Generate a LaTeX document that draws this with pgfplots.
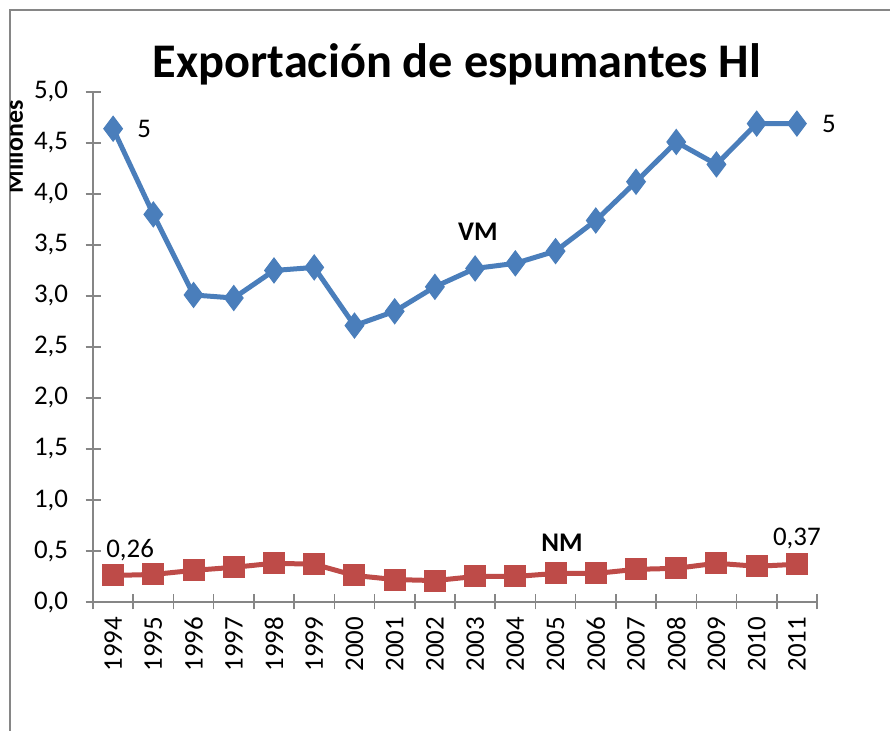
\documentclass[border=0pt]{standalone}
\usepackage{pgfplots}
\pgfplotsset{compat=1.18}
\usepackage{fontspec}
\setmainfont{Carlito}
\definecolor{vmblue}{HTML}{4A7EBB}
\definecolor{nmred}{HTML}{BE4B48}
\definecolor{axgray}{HTML}{868686}
\begin{document}
\begin{tikzpicture}[x=1bp,y=1bp]
\useasboundingbox (0,0) rectangle (890,731);
\draw[axgray,line width=1.2bp] (10,0) -- (10,721) -- (890,721);
\node[font=\fontsize{48.5}{54}\selectfont\bfseries] at (457,667) {Exportación de espumantes Hl};
\begin{scope}
\clip (10.5,0) rectangle (890,731);
\node[rotate=90,font=\fontsize{26}{30}\selectfont\bfseries] at (14,584) {Millones};
\end{scope}
\begin{axis}[
  at={(93bp,129bp)}, anchor=south west,
  scale only axis, width=724bp, height=510bp,
  xmin=-0.5, xmax=17.5, ymin=0, ymax=5,
  axis lines*=left,
  axis line style={axgray,line width=1.5bp},
  every tick/.style={axgray,line width=1.5bp},
  tick align=center,
  xtick={0,...,17},
  xticklabels={1994,1995,1996,1997,1998,1999,2000,2001,2002,2003,2004,2005,2006,2007,2008,2009,2010,2011},
  minor xtick={-0.5,0.5,...,17.5},
  major x tick style={draw=none},
  minor tick length=15bp,
  major tick length=15bp,
  ytick={0,0.5,...,5},
  /pgf/number format/.cd, fixed, fixed zerofill, precision=1, use comma, assume math mode=true,
  /pgfplots/.cd,
  tick label style={font=\fontsize{27}{31}\selectfont},
  xticklabel style={yshift=-4bp,rotate=90,anchor=east},
  yticklabel style={xshift=-14bp},
  clip=false,
]
\addplot[color=vmblue, line width=5bp, mark=diamond*, mark size=12.5bp, mark options={fill=vmblue,line width=1bp}] coordinates {
(0,4.64) (1,3.80) (2,3.01) (3,2.98) (4,3.25) (5,3.28) (6,2.71) (7,2.85) (8,3.09)
(9,3.27) (10,3.32) (11,3.44) (12,3.74) (13,4.12) (14,4.51) (15,4.29) (16,4.69) (17,4.69)};
\addplot[color=nmred, line width=5bp, mark=square*, mark size=10.5bp, mark options={fill=nmred,line width=1bp}] coordinates {
(0,0.26) (1,0.27) (2,0.31) (3,0.34) (4,0.38) (5,0.37) (6,0.26) (7,0.22) (8,0.21)
(9,0.25) (10,0.25) (11,0.28) (12,0.28) (13,0.32) (14,0.33) (15,0.38) (16,0.35) (17,0.37)};
\node[anchor=west,inner sep=0pt,font=\fontsize{27}{31}\selectfont] at ([xshift=24bp]axis cs:0,4.64) {5};
\node[anchor=west,inner sep=0pt,font=\fontsize{27}{31}\selectfont] at ([xshift=25bp]axis cs:17,4.69) {5};
\node[anchor=base west,inner sep=0pt,font=\fontsize{27}{31}\selectfont] at ([xshift=-7bp,yshift=18bp]axis cs:0,0.26) {0,26};
\node[anchor=base,inner sep=0pt,font=\fontsize{27}{31}\selectfont] at ([yshift=19bp]axis cs:17,0.37) {0,37};
\node[font=\fontsize{27}{31}\selectfont\bfseries] at (axis cs:9.07,3.63) {VM};
\node[font=\fontsize{27}{31}\selectfont\bfseries] at (axis cs:11.16,0.58) {NM};
\end{axis}
\end{tikzpicture}
\end{document}
